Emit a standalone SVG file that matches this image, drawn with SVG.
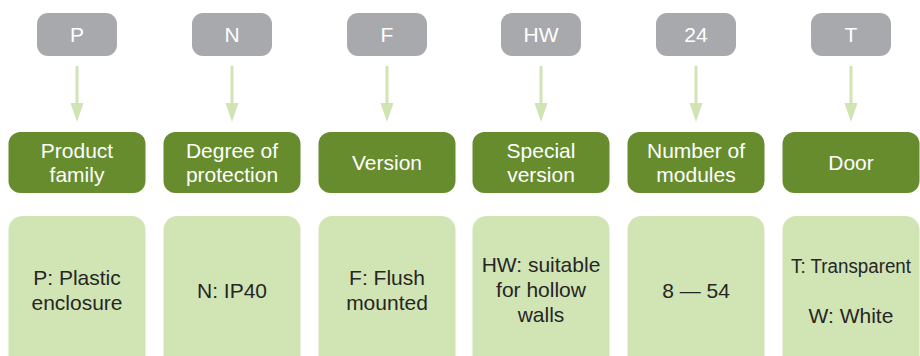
<svg xmlns="http://www.w3.org/2000/svg" width="920" height="356" viewBox="0 0 920 356">
<style>
text{font-family:"Liberation Sans",Arial,sans-serif;text-anchor:middle}
.code rect{fill:#a7a9ac}
.code text{fill:#ffffff;font-size:21px}
.head rect{fill:#678c2e}
.head text{fill:#ffffff;font-size:21px}
.desc rect{fill:#d1e4b4}
.desc text{fill:#262626;font-size:21px}
.conn line{stroke:#d1e4b4;stroke-width:3}
.conn path{fill:#d1e4b4}
</style>
<rect width="920" height="356" fill="#ffffff"/>
<g id="connectors" class="conn">
<line x1="77" y1="66" x2="77" y2="104"/><path d="M70.5,103 L83.5,103 L77,122 Z"/>
<line x1="232" y1="66" x2="232" y2="104"/><path d="M225.5,103 L238.5,103 L232,122 Z"/>
<line x1="387" y1="66" x2="387" y2="104"/><path d="M380.5,103 L393.5,103 L387,122 Z"/>
<line x1="541" y1="66" x2="541" y2="104"/><path d="M534.5,103 L547.5,103 L541,122 Z"/>
<line x1="696" y1="66" x2="696" y2="104"/><path d="M689.5,103 L702.5,103 L696,122 Z"/>
<line x1="851" y1="66" x2="851" y2="104"/><path d="M844.5,103 L857.5,103 L851,122 Z"/>
</g>
<g id="code-P" class="code"><rect x="37" y="13" width="80" height="43" rx="11"/><text x="77" y="42">P</text></g>
<g id="code-N" class="code"><rect x="192" y="13" width="80" height="43" rx="11"/><text x="232" y="42">N</text></g>
<g id="code-F" class="code"><rect x="347" y="13" width="80" height="43" rx="11"/><text x="387" y="42">F</text></g>
<g id="code-HW" class="code"><rect x="501" y="13" width="80" height="43" rx="11"/><text x="541" y="42">HW</text></g>
<g id="code-24" class="code"><rect x="656" y="13" width="80" height="43" rx="11"/><text x="696" y="42">24</text></g>
<g id="code-T" class="code"><rect x="811" y="13" width="80" height="43" rx="11"/><text x="851" y="42">T</text></g>
<g id="head-product" class="head"><rect x="8.5" y="132" width="137" height="61" rx="12"/><text x="77" y="158">Product</text><text x="77" y="182">family</text></g>
<g id="head-protection" class="head"><rect x="163.5" y="132" width="137" height="61" rx="12"/><text x="232" y="158">Degree of</text><text x="232" y="182">protection</text></g>
<g id="head-version" class="head"><rect x="318.5" y="132" width="137" height="61" rx="12"/><text x="387" y="170">Version</text></g>
<g id="head-special" class="head"><rect x="472.5" y="132" width="137" height="61" rx="12"/><text x="541" y="158">Special</text><text x="541" y="182">version</text></g>
<g id="head-modules" class="head"><rect x="627.5" y="132" width="137" height="61" rx="12"/><text x="696" y="158">Number of</text><text x="696" y="182">modules</text></g>
<g id="head-door" class="head"><rect x="782.5" y="132" width="137" height="61" rx="12"/><text x="851" y="170">Door</text></g>
<g id="desc-P" class="desc"><rect x="8.5" y="216" width="137" height="160" rx="14"/><text x="77" y="285">P: Plastic</text><text x="77" y="310">enclosure</text></g>
<g id="desc-N" class="desc"><rect x="163.5" y="216" width="137" height="160" rx="14"/><text x="232" y="298">N: IP40</text></g>
<g id="desc-F" class="desc"><rect x="318.5" y="216" width="137" height="160" rx="14"/><text x="387" y="285">F: Flush</text><text x="387" y="310">mounted</text></g>
<g id="desc-HW" class="desc"><rect x="472.5" y="216" width="137" height="160" rx="14"/><text x="541" y="272">HW: suitable</text><text x="541" y="297">for hollow</text><text x="541" y="322">walls</text></g>
<g id="desc-24" class="desc"><rect x="627.5" y="216" width="137" height="160" rx="14"/><text x="696" y="298">8 — 54</text></g>
<g id="desc-T" class="desc"><rect x="782.5" y="216" width="137" height="160" rx="14"/><text x="851" y="273" style="font-size:20px" textLength="120" lengthAdjust="spacingAndGlyphs">T: Transparent</text><text x="851" y="323">W: White</text></g>
</svg>
